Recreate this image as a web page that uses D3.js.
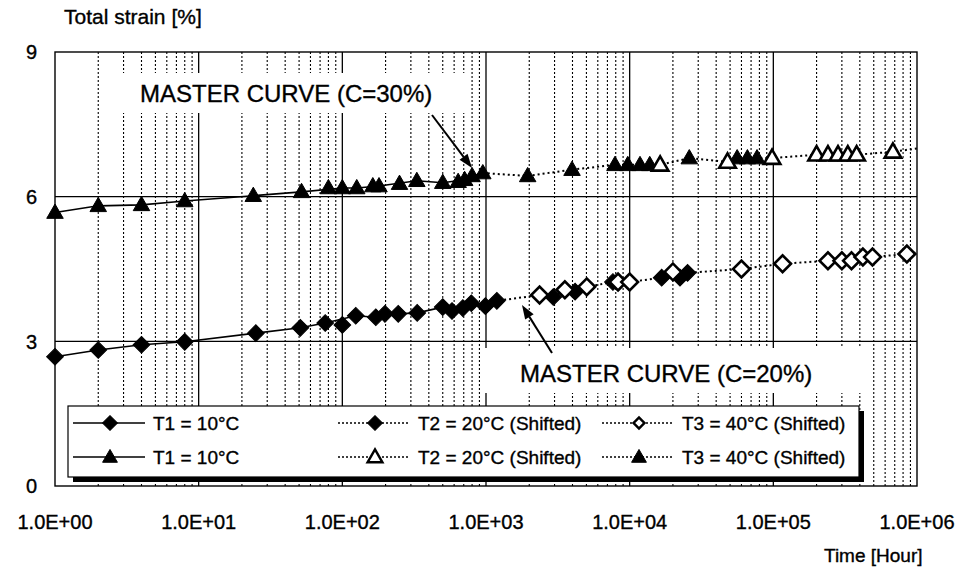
<!DOCTYPE html>
<html>
<head>
<meta charset="utf-8">
<script src="https://cdn.jsdelivr.net/npm/d3@7"></script>
<style>
  html, body { margin: 0; padding: 0; background: #fff; }
  svg text { font-family: "Liberation Sans", Arial, sans-serif; fill: #000; stroke: #000; stroke-width: 0.35px; }
</style>
</head>
<body>
<svg id="chart" width="962" height="576"></svg>
<script>
/* -------------------- 1. DATA --------------------------------------- */
// time [hour] and total strain [%]
const triT1_t = [1, 2, 4, 8, 24, 52, 100, 126, 180, 330, 500, 710, 800, 950];
const triT1_v = [5.67, 5.81, 5.83, 5.91, 6.02, 6.10, 6.18, 6.18, 6.22, 6.33, 6.29, 6.35, 6.43, 6.49];
const triT2_t = [16300, 48000, 98000, 200000, 240000, 282000, 330000, 380000, 680000];
const triT2_v = [6.66, 6.72, 6.80, 6.87, 6.87, 6.87, 6.87, 6.87, 6.93];
const triT3_t = [80, 163, 250, 640, 1950, 3970, 7900, 9700, 11800, 13800, 26000, 56000, 66000, 77000];
const triT3_v = [6.18, 6.22, 6.27, 6.31, 6.43, 6.56, 6.66, 6.66, 6.66, 6.66, 6.80, 6.80, 6.80, 6.80];

const diaT1_t = [1, 2, 4, 8, 25, 51, 76, 124, 171, 245, 332, 500, 690, 790, 990];
const diaT1_v = [2.68, 2.82, 2.93, 2.99, 3.17, 3.28, 3.38, 3.53, 3.50, 3.57, 3.59, 3.71, 3.69, 3.79, 3.73];
const diaT2_t = [100, 198, 580, 1190, 2940, 4170, 7650, 16700, 22400, 25300];
const diaT2_v = [3.34, 3.57, 3.63, 3.84, 3.92, 4.03, 4.23, 4.32, 4.32, 4.42];
const diaT3_t = [2360, 3540, 5030, 8300, 10000, 20000, 60000, 116000, 240000, 300000, 350000, 420000, 490000, 850000];
const diaT3_v = [3.96, 4.07, 4.13, 4.23, 4.23, 4.44, 4.50, 4.61, 4.67, 4.67, 4.67, 4.75, 4.75, 4.81];

// end of the dotted master curves at the right edge
const masterEnd_t = 1e6;
const masterEndTri = 7.0;
const masterEndDia = 4.84;

const xTicks = [1, 10, 100, 1000, 10000, 100000, 1000000];
const xTickLabels = ["1.0E+00", "1.0E+01", "1.0E+02", "1.0E+03", "1.0E+04", "1.0E+05", "1.0E+06"];
const yTicks = [0, 3, 6, 9];

const legendRows = [
  [{label: "T1 = 10°C", shape: "dia", fill: true, dash: false},
   {label: "T2 = 20°C (Shifted)", shape: "dia", fill: true, dash: true},
   {label: "T3 = 40°C (Shifted)", shape: "dia", fill: false, dash: true}],
  [{label: "T1 = 10°C", shape: "tri", fill: true, dash: false},
   {label: "T2 = 20°C (Shifted)", shape: "tri", fill: false, dash: true},
   {label: "T3 = 40°C (Shifted)", shape: "tri", fill: true, dash: true}]
];

/* -------------------- 2. SCALES ------------------------------------- */
const X0 = 55, X1 = 917, Y0 = 486, Y1 = 52;
const x = d3.scaleLog().domain([1, 1e6]).range([X0, X1]);
const y = d3.scaleLinear().domain([0, 9]).range([Y0, Y1]);

const svg = d3.select("#chart");
const zip = (ts, vs) => ts.map((t, i) => ({t, v: vs[i]}));

/* -------------------- 3. GRID -------------------------------------- */
const grid = svg.append("g");
const minor = [];
for (let d = 0; d < 6; d++) for (let k = 2; k <= 9; k++) minor.push(k * Math.pow(10, d));
grid.selectAll("line.minor").data(minor).join("line")
    .attr("x1", d => x(d)).attr("x2", d => x(d))
    .attr("y1", Y1).attr("y2", Y0)
    .attr("stroke", "#000").attr("stroke-width", 1.1).attr("stroke-dasharray", "2,2");
grid.selectAll("line.major").data(xTicks.slice(1, -1)).join("line")
    .attr("x1", d => x(d)).attr("x2", d => x(d))
    .attr("y1", Y1).attr("y2", Y0)
    .attr("stroke", "#000").attr("stroke-width", 1.3);
grid.selectAll("line.h").data([3, 6]).join("line")
    .attr("x1", X0).attr("x2", X1)
    .attr("y1", d => y(d)).attr("y2", d => y(d))
    .attr("stroke", "#000").attr("stroke-width", 1.3);
svg.append("rect").attr("x", X0).attr("y", Y1).attr("width", X1 - X0).attr("height", Y0 - Y1)
   .attr("fill", "none").attr("stroke", "#000").attr("stroke-width", 1.4);

/* -------------------- 4. AXIS LABELS -------------------------------- */
svg.selectAll("text.yt").data(yTicks).join("text")
   .attr("x", 37).attr("y", d => y(d)).attr("dy", "0.36em")
   .attr("text-anchor", "end").attr("font-size", 20).text(d => d);
svg.selectAll("text.xt").data(xTicks).join("text")
   .attr("x", d => x(d)).attr("y", 529)
   .attr("text-anchor", "middle").attr("font-size", 20)
   .text((d, i) => xTickLabels[i]);
svg.append("text").attr("x", 64).attr("y", 24).attr("font-size", 21).text("Total strain [%]");
svg.append("text").attr("x", 824).attr("y", 562).attr("font-size", 19).text("Time [Hour]");

/* -------------------- 5. ANNOTATIONS -------------------------------- */
function note(bx, by, bw, bh, tx, ty, txt){
  svg.append("rect").attr("x", bx).attr("y", by).attr("width", bw).attr("height", bh).attr("fill", "#fff");
  svg.append("text").attr("x", tx).attr("y", ty).attr("font-size", 24).text(txt);
}
note(118, 73, 352, 40, 140, 102, "MASTER CURVE (C=30%)");
note(482, 348, 383, 45, 520, 382, "MASTER CURVE (C=20%)");

/* -------------------- 6. SERIES ------------------------------------- */
const line = d3.line().x(d => x(d.t)).y(d => y(d.v));
const sym = {
  tri: d3.symbol().type(d3.symbolTriangle).size(118)(),
  dia: d3.symbol().type(d3.symbolSquare).size(140)()
};
const rot = s => s === "dia" ? " rotate(45)" : "";

function solid(pts){
  svg.append("path").datum(pts).attr("d", line)
     .attr("fill", "none").attr("stroke", "#000").attr("stroke-width", 1.6);
}
function dotted(pts){
  svg.append("path").datum(pts).attr("d", line)
     .attr("fill", "none").attr("stroke", "#000").attr("stroke-width", 2)
     .attr("stroke-dasharray", "2,3");
}
function markers(pts, shape, filled){
  svg.append("g").selectAll("path").data(pts).join("path")
     .attr("d", sym[shape])
     .attr("transform", d => `translate(${x(d.t)},${y(d.v) + (shape === "tri" ? 1 : 0)})${rot(shape)}`)
     .attr("fill", filled ? "#000" : "#fff")
     .attr("stroke", "#000").attr("stroke-width", filled ? 1 : 2.6);
}
function master(t1, others, endV){
  const lastT = t1[t1.length - 1];
  const pts = [lastT].concat(others.filter(d => d.t >= lastT.t))
                .sort((a, b) => a.t - b.t);
  pts.push({t: masterEnd_t, v: endV});
  dotted(pts);
}

const triT1 = zip(triT1_t, triT1_v), triT2 = zip(triT2_t, triT2_v), triT3 = zip(triT3_t, triT3_v);
const diaT1 = zip(diaT1_t, diaT1_v), diaT2 = zip(diaT2_t, diaT2_v), diaT3 = zip(diaT3_t, diaT3_v);

solid(triT1); solid(diaT1);
master(triT1, triT2.concat(triT3), masterEndTri);
master(diaT1, diaT2.concat(diaT3), masterEndDia);

markers(triT1, "tri", true);
markers(triT3, "tri", true);
markers(triT2, "tri", false);
markers(diaT1, "dia", true);
markers(diaT2, "dia", true);
markers(diaT3, "dia", false);

/* -------------------- 7. ARROWS ------------------------------------- */
function arrow(xa, ya, xb, yb){
  const ang = Math.atan2(yb - ya, xb - xa), L = 14, W = 5;
  const bx = xb - L * Math.cos(ang), by = yb - L * Math.sin(ang);
  svg.append("line").attr("x1", xa).attr("y1", ya).attr("x2", bx).attr("y2", by)
     .attr("stroke", "#000").attr("stroke-width", 2);
  const px = -Math.sin(ang) * W, py = Math.cos(ang) * W;
  svg.append("path")
     .attr("d", `M${xb},${yb}L${bx + px},${by + py}L${bx - px},${by - py}Z`)
     .attr("fill", "#000");
}
arrow(432, 115, 472, 168);
arrow(552, 353, 522, 305);

/* -------------------- 8. LEGEND ------------------------------------- */
const LX = 68, LY = 406, LW = 791, LH = 71;
svg.append("rect").attr("x", LX + 5).attr("y", LY + 5).attr("width", LW).attr("height", LH).attr("fill", "#000");
svg.append("rect").attr("x", LX).attr("y", LY).attr("width", LW).attr("height", LH)
   .attr("fill", "#fff").attr("stroke", "#000").attr("stroke-width", 1.2);

const colX = [73, 338, 602];   // start of the sample line in each column
const rowY = [423, 457];
legendRows.forEach((row, r) => row.forEach((e, c) => {
  const g = svg.append("g").attr("transform", `translate(${colX[c]},${rowY[r]})`);
  g.append("line").attr("x1", 0).attr("x2", 72).attr("y1", 0).attr("y2", 0)
   .attr("stroke", "#000").attr("stroke-width", e.dash ? 1.3 : 1.6)
   .attr("stroke-dasharray", e.dash ? "2,2" : null);
  g.append("path").attr("d", e.shape === "tri"
        ? d3.symbol().type(d3.symbolTriangle).size(95)()
        : d3.symbol().type(d3.symbolSquare).size(e.fill ? 110 : 60)())
   .attr("transform", `translate(37,${e.shape === "tri" ? 1 : 0})${rot(e.shape)}`)
   .attr("fill", e.fill ? "#000" : "#fff")
   .attr("stroke", "#000").attr("stroke-width", e.fill ? 1 : 2.4);
  g.append("text").attr("x", 80).attr("y", 7).attr("font-size", 19).text(e.label);
}));
</script>
</body>
</html>
